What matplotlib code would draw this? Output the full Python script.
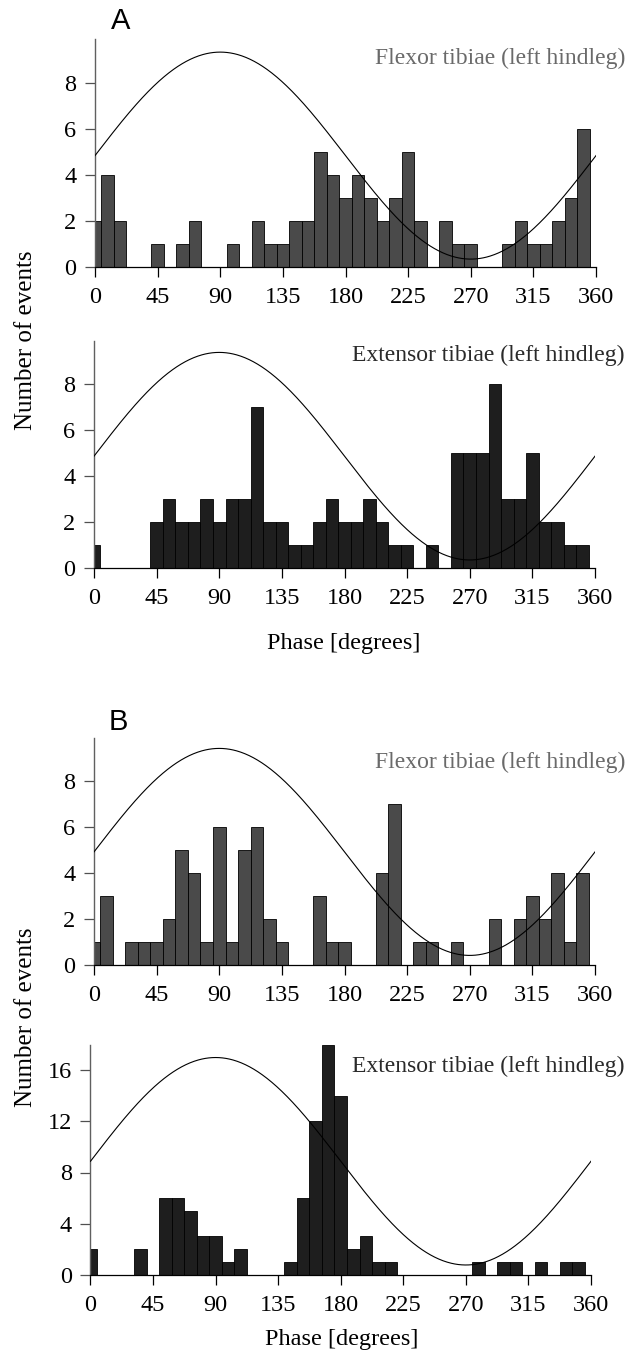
import numpy as np
import matplotlib
matplotlib.use("Agg")
import matplotlib.pyplot as plt

# ---- data ----
bin_centres = list(range(0, 360, 9))   # 40 bins of 9 degrees
bin_width = 9

flexor_A = [2, 4, 2, 0, 0, 1, 0, 1, 2, 0, 0, 1, 0, 2, 1, 1, 2, 2, 5, 4,
            3, 4, 3, 2, 3, 5, 2, 0, 2, 1, 1, 0, 0, 1, 2, 1, 1, 2, 3, 6]
extensor_A = [1, 0, 0, 0, 0, 2, 3, 2, 2, 3, 2, 3, 3, 7, 2, 2, 1, 1, 2, 3,
              2, 2, 3, 2, 1, 1, 0, 1, 0, 5, 5, 5, 8, 3, 3, 5, 2, 2, 1, 1]
flexor_B = [1, 3, 0, 1, 1, 1, 2, 5, 4, 1, 6, 1, 5, 6, 2, 1, 0, 0, 3, 1,
            1, 0, 0, 4, 7, 0, 1, 1, 0, 1, 0, 0, 2, 0, 2, 3, 2, 4, 1, 4]
extensor_B = [2, 0, 0, 0, 2, 0, 6, 6, 5, 3, 3, 1, 2, 0, 0, 0, 1, 6, 12, 18,
              14, 2, 3, 1, 1, 0, 0, 0, 0, 0, 0, 1, 0, 1, 1, 0, 1, 0, 1, 1]

# reference sine (offset, amplitude) per panel
curve_offset = [4.83, 4.87, 4.93, 8.88]
curve_amp = [4.50, 4.52, 4.50, 8.12]

x_ticks = [0, 45, 90, 135, 180, 225, 270, 315, 360]
y_ticks_small = [0, 2, 4, 6, 8]
y_ticks_large = [0, 4, 8, 12, 16]

titles = ["Flexor tibiae (left hindleg)", "Extensor tibiae (left hindleg)",
          "Flexor tibiae (left hindleg)", "Extensor tibiae (left hindleg)"]
panel_letters = ["A", "B"]

# ---- layout ----
W, H = 637, 1361
fig = plt.figure(figsize=(W / 100, H / 100), dpi=100)

serif = "Liberation Serif"
sans = "Liberation Sans"

# (left px, right px, bottom px, ymax, px per unit)
panels = [
    (95, 596, 266.7, 9.9, 23.0),
    (94, 595, 568.0, 9.9, 22.96),
    (94, 595, 965.3, 9.9, 23.0),
    (90.5, 591, 1274.7, 18.0, 12.775),
]
data = [flexor_A, extensor_A, flexor_B, extensor_B]
bar_colors = ["#4a4a4a", "#1e1e1e", "#4a4a4a", "#1e1e1e"]
title_colors = ["#6a6a6a", "#2a2a2a", "#6a6a6a", "#2a2a2a"]
yticks_list = [y_ticks_small, y_ticks_small, y_ticks_small, y_ticks_large]
title_y = [58, 355, 762, 1066]

xs = np.linspace(0, 360, 721)

for i, (l, r, b, ymax, ppu) in enumerate(panels):
    h = ymax * ppu
    ax = fig.add_axes([l / W, 1 - b / H, (r - l) / W, h / H])
    ax.bar(bin_centres, data[i], width=bin_width, align="center",
           color=bar_colors[i], edgecolor="black", linewidth=0.6, zorder=2)
    ax.plot(xs, curve_offset[i] + curve_amp[i] * np.sin(np.radians(xs)),
            color="black", linewidth=0.8, zorder=3)
    ax.set_xlim(0, 360)
    ax.set_ylim(0, ymax)
    ax.set_xticks(x_ticks)
    ax.set_yticks(yticks_list[i])
    for s in ["top", "right"]:
        ax.spines[s].set_visible(False)
    ax.spines["left"].set_color("#606060")
    ax.spines["left"].set_linewidth(1.0)
    ax.spines["bottom"].set_color("black")
    ax.spines["bottom"].set_linewidth(0.9)
    ax.tick_params(axis="both", direction="out", length=7.5, width=0.9,
                   labelsize=17.5)
    ax.tick_params(axis="y", colors="#505050", labelcolor="black", pad=6)
    ax.tick_params(axis="x", pad=7)
    for lab in ax.get_xticklabels() + ax.get_yticklabels():
        lab.set_fontfamily(serif)
    ax.set_facecolor("none")
    fig.text(625 / W, 1 - title_y[i] / H, titles[i], ha="right", va="center",
             fontsize=17, family=serif, color=title_colors[i])

# panel letters
fig.text(121 / W, 1 - 21 / H, panel_letters[0], ha="center", va="center",
         fontsize=21, family=sans)
fig.text(118 / W, 1 - 722 / H, panel_letters[1], ha="center", va="center",
         fontsize=21, family=sans)

# y labels
fig.text(26 / W, 1 - 340 / H, "Number of events", rotation=90, ha="center",
         va="center", fontsize=18, family=serif)
fig.text(26 / W, 1 - 1017 / H, "Number of events", rotation=90, ha="center",
         va="center", fontsize=18, family=serif)

# x labels
fig.text(344 / W, 1 - 643 / H, "Phase [degrees]", ha="center", va="center",
         fontsize=17.5, family=serif)
fig.text(342 / W, 1 - 1340 / H, "Phase [degrees]", ha="center", va="center",
         fontsize=17.5, family=serif)

fig.savefig("out.png", dpi=100)
